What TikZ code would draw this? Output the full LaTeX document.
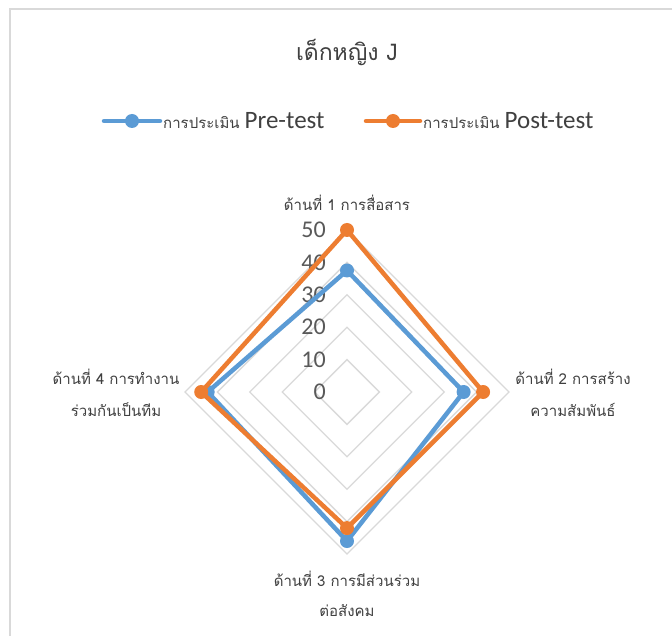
\documentclass[tikz,border=0pt]{standalone}
\usepackage{fontspec}
\newfontfamily\thaifont[Script=Thai]{Loma}
\newfontfamily\calfont{Carlito}
\definecolor{pre}{HTML}{5B9BD5}
\definecolor{post}{HTML}{ED7D31}
\definecolor{gridc}{HTML}{D9D9D9}
\definecolor{framec}{HTML}{D9D9D9}
\definecolor{txt}{HTML}{404040}
\definecolor{scalec}{HTML}{595959}
\tikzset{
  gridline/.style={draw=gridc, line width=1.3pt},
  series/.style={line width=4.5pt, line join=round, line cap=round},
  dot/.style={circle, inner sep=0pt, minimum size=14pt},
  scalelabel/.style={anchor=east, text=scalec, font=\calfont\fontsize{24}{24}\selectfont, inner sep=0pt},
  axlabel/.style={text=txt, font=\thaifont\fontsize{15}{15}\selectfont, align=center, inner sep=0pt},
  legtext/.style={anchor=west, text=txt, inner sep=0pt},
}
\begin{document}
\begin{tikzpicture}[x=1pt,y=-1pt]
\useasboundingbox (0,0) rectangle (672,636);
\fill[white] (0,0) rectangle (672,636);
\draw[framec, line width=2pt] (10,636) -- (10,9) -- (672,9);
% title
\node[text=txt, font=\thaifont\fontsize{23}{23}\selectfont, inner sep=0pt] (title) at (347,52) {เด็กหญิง J};
% legend
\coordinate (l1a) at (104,121); \coordinate (l1b) at (160,121);
\draw[pre, line width=4.5pt, line cap=round] (l1a) -- (l1b);
\node[dot, fill=pre] (l1d) at (132,121) {};
\node[legtext] (l1t) at (163,121) {\thaifont\fontsize{15}{15}\selectfont การประเมิน \calfont\fontsize{25}{25}\selectfont Pre-test};
\coordinate (l2a) at (366,121); \coordinate (l2b) at (420,121);
\draw[post, line width=4.5pt, line cap=round] (l2a) -- (l2b);
\node[dot, fill=post] (l2d) at (393,121) {};
\node[legtext] (l2t) at (423,121) {\thaifont\fontsize{15}{15}\selectfont การประเมิน \calfont\fontsize{25}{25}\selectfont Post-test};
% grid
\coordinate (O) at (347,392);
\foreach \r in {1,...,5} {
  \draw[gridline] (347,{392-32.4*\r}) -- ({347+32.4*\r},392) -- (347,{392+32.4*\r}) -- ({347-32.4*\r},392) -- cycle;
}
% scale labels
\foreach \k in {0,...,5} {
  \pgfmathtruncatemacro{\v}{10*\k}
  \node[scalelabel] (s\k) at (326,{392-32.4*\k}) {\v};
}
% axis labels
\node[axlabel] (a1) at (347,203) {ด้านที่ 1 การสื่อสาร};
\node[axlabel] (a2) at (573,393) {ด้านที่ 2 การสร้าง\\[17pt]ความสัมพันธ์};
\node[axlabel] (a3) at (347,594) {ด้านที่ 3 การมีส่วนร่วม\\[15pt]ต่อสังคม};
\node[axlabel] (a4) at (116,393) {ด้านที่ 4 การทำงาน\\[17pt]ร่วมกันเป็นทีม};
% series pre
\coordinate (p1) at (347,{392-3.24*37.5});
\coordinate (p2) at ({347+3.24*36},392);
\coordinate (p3) at (347,{392+3.24*46});
\coordinate (p4) at ({347-3.24*43},392);
\draw[series, pre] (p1) -- (p2) -- (p3) -- (p4) -- cycle;
\foreach \i in {1,...,4} \node[dot, fill=pre] (pd\i) at (p\i) {};
% series post
\coordinate (q1) at (347,{392-3.24*50});
\coordinate (q2) at ({347+3.24*42},392);
\coordinate (q3) at (347,{392+3.24*42});
\coordinate (q4) at ({347-3.24*45},392);
\draw[series, post] (q1) -- (q2) -- (q3) -- (q4) -- cycle;
\foreach \i in {1,...,4} \node[dot, fill=post] (qd\i) at (q\i) {};
\end{tikzpicture}
\end{document}
